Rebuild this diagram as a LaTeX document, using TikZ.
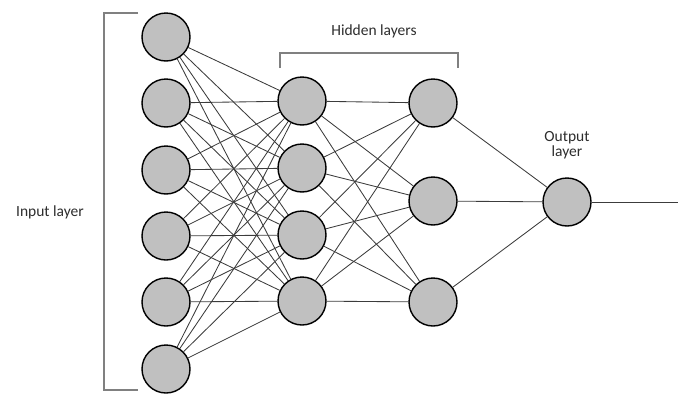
\documentclass[tikz,border=0pt]{standalone}
\usepackage{fontspec}
\setmainfont{Carlito}
\definecolor{nodefill}{RGB}{192,192,192}
\definecolor{linegray}{RGB}{60,60,60}
\definecolor{txt}{RGB}{45,45,45}
\begin{document}
\begin{tikzpicture}[x=1pt,y=-1pt,
  neuron/.style={circle,draw=black,line width=1.4pt,fill=nodefill,minimum size=48pt,inner sep=0pt},
  conn/.style={draw=linegray,line width=0.85pt},
  bracketline/.style={draw=gray,line width=1.2pt},
  lbl/.style={text=txt,font=\fontsize{15.5}{17}\selectfont,align=center}]
\useasboundingbox (0,0) rectangle (678,394);
% input layer
\foreach \i/\y in {1/37,2/103,3/170,4/236,5/302,6/369}{
  \node[neuron] (in\i) at (166,\y) {};
}
% hidden 1
\foreach \i/\y in {1/101,2/168,3/235,4/301}{
  \node[neuron] (ha\i) at (302,\y) {};
}
% hidden 2
\foreach \i/\y in {1/103,2/201,3/302}{
  \node[neuron] (hb\i) at (433,\y) {};
}
% output
\node[neuron] (out) at (567,202) {};
\coordinate (outend) at (678,202);
% connections
\foreach \i in {1,...,6}{\foreach \j in {1,...,4}{\draw[conn] (in\i) -- (ha\j);}}
\foreach \i in {1,...,4}{\foreach \j in {1,...,3}{\draw[conn] (ha\i) -- (hb\j);}}
\foreach \j in {1,...,3}{\draw[conn] (hb\j) -- (out);}
\draw[conn] (out) -- (outend);
% brackets
\coordinate (ib1) at (138,13);
\coordinate (ib2) at (104,13);
\coordinate (ib3) at (104,390);
\coordinate (ib4) at (138,390);
\draw[bracketline] (ib1) -- (ib2) -- (ib3) -- (ib4);
\coordinate (hbr1) at (280,68);
\coordinate (hbr2) at (280,53);
\coordinate (hbr3) at (458,53);
\coordinate (hbr4) at (458,68);
\draw[bracketline] (hbr1) -- (hbr2) -- (hbr3) -- (hbr4);
% labels
\node[lbl] (lin) at (50,212) {Input layer};
\node[lbl] (lhid) at (374,31) {Hidden layers};
\node[lbl] (lout) at (567,145) {Output\\[-2pt]layer};
\end{tikzpicture}
\end{document}
